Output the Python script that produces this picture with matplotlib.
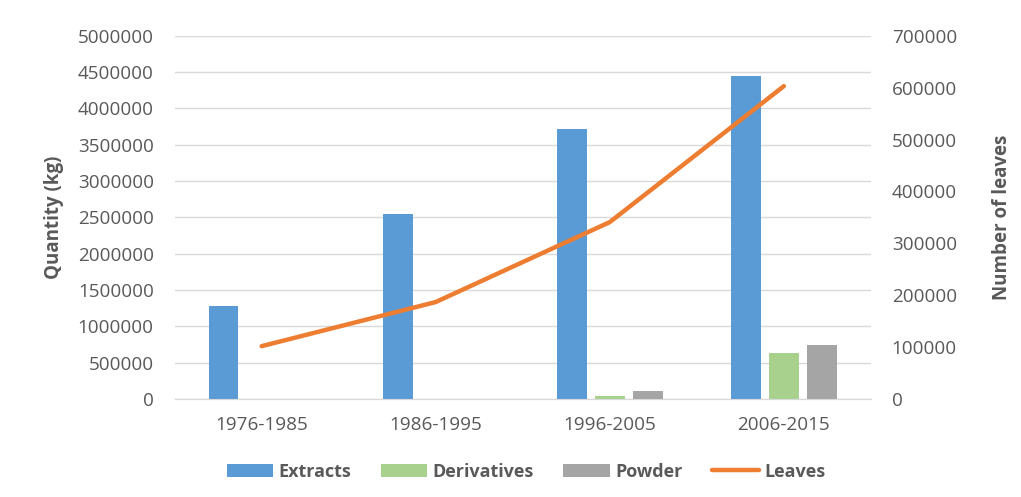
import matplotlib.pyplot as plt
from matplotlib.ticker import FuncFormatter
import numpy as np

plt.rcParams['font.family'] = ['Open Sans', 'DejaVu Sans']

periodos = ['1976-1985', '1986-1995', '1996-2005', '2006-2015']
extracts = [1280000, 2550000, 3720000, 4440000]
derivatives = [0, 0, 40000, 640000]
powder = [0, 0, 110000, 750000]
leaves = [102000, 187000, 341000, 603000]

gris = '#595959'
x = np.arange(len(periodos))
ancho = 0.17
paso = 0.218

fig = plt.figure(figsize=(10.21, 4.97), dpi=100)
ax = fig.add_axes([0.171, 0.197, 0.682, 0.731])
ax2 = ax.twinx()

b1 = ax.bar(x - paso, extracts, ancho, color='#5b9bd5', label='Extracts', zorder=3)
b2 = ax.bar(x, derivatives, ancho, color='#a9d18e', label='Derivatives', zorder=3)
b3 = ax.bar(x + paso, powder, ancho, color='#a5a5a5', label='Powder', zorder=3)
l1, = ax2.plot(x, leaves, color='#ed7d31', lw=3.2, label='Leaves', solid_capstyle='round')

ax.set_xlim(-0.5, 3.5)
ax.set_ylim(0, 5000000)
ax.set_yticks(np.arange(0, 5000001, 500000))
ax2.set_ylim(0, 700000)
ax2.set_yticks(np.arange(0, 700001, 100000))
entero = FuncFormatter(lambda v, p: '%d' % v)
ax.yaxis.set_major_formatter(entero)
ax2.yaxis.set_major_formatter(entero)
ax.set_xticks(x)
ax.set_xticklabels(periodos)

ax.grid(axis='y', color='#d9d9d9', lw=1, zorder=0)
for a in (ax, ax2):
    for s in ['top', 'left', 'right']:
        a.spines[s].set_visible(False)
    a.spines['bottom'].set_color('#d9d9d9')
    a.tick_params(length=0, colors=gris, labelsize=13.6)
ax.tick_params(axis='y', pad=15)
ax2.tick_params(axis='y', pad=15)
ax.tick_params(axis='x', pad=12)

ax.set_ylabel('Quantity (kg)', fontsize=13.5, fontweight='bold', color=gris, labelpad=10)
ax2.set_ylabel('Number of leaves', fontsize=13.5, fontweight='bold', color=gris, labelpad=25)

fig.legend([b1, b2, b3, l1], ['Extracts', 'Derivatives', 'Powder', 'Leaves'],
           loc='lower center', bbox_to_anchor=(0.515, 0.0), ncol=4, frameon=False,
           prop={'weight': 'bold', 'size': 13}, labelcolor=gris,
           handlelength=2.6, handleheight=0.75, columnspacing=1.6, handletextpad=0.3)

fig.savefig('out.png', dpi=100)
